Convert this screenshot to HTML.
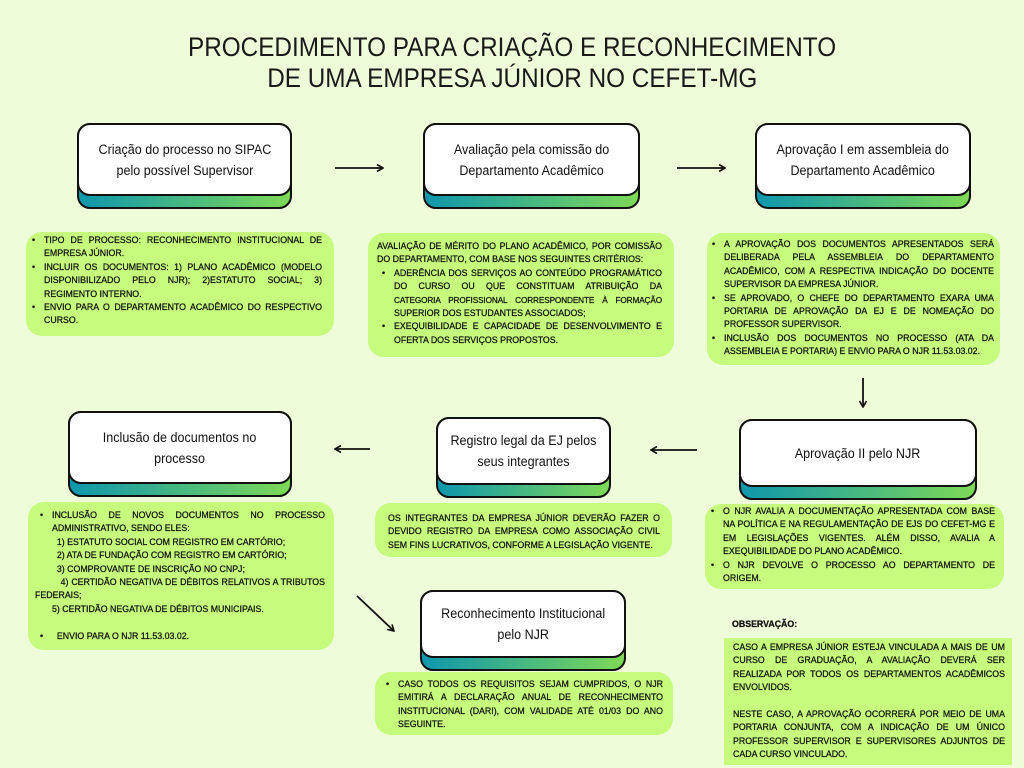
<!DOCTYPE html>
<html><head><meta charset="utf-8">
<style>
*{margin:0;padding:0;box-sizing:border-box}
body{width:1024px;height:768px;background:#effcda;position:relative;overflow:hidden;font-family:"Liberation Sans",sans-serif;color:#1a1a1a}
.title{position:absolute;left:0;width:1024px;text-align:center;font-size:27px;line-height:31px;color:#1a1a1a}
.title span{display:inline-block;transform:scaleX(0.9)}
.node{position:absolute;border:2px solid #111;border-radius:13px;background:linear-gradient(90deg,#0e97ad,#7ed957)}
.node .w{position:absolute;left:-2px;top:-2px;right:-2px;bottom:11px;background:#fff;border:2px solid #111;border-radius:13px;display:flex;align-items:center;justify-content:center;text-align:center;font-size:13.5px;line-height:21px;color:#111}
.node .w span{display:inline-block;transform:scaleX(0.93)}
.g{position:absolute;background:#c6fb7d;border-radius:16px}
.t{position:absolute;font-size:8.8px;color:#111;-webkit-text-stroke:0.25px #111}
.t div{height:13.4px;line-height:13.4px;white-space:nowrap;position:relative}
.t .j{text-align:justify;text-align-last:justify;white-space:normal}
.t .b::before{content:"•";position:absolute;left:-12px;top:0}
svg{position:absolute;left:0;top:0}
</style></head><body>
<div class="title" style="top:32px"><span>PROCEDIMENTO PARA CRIAÇÃO E RECONHECIMENTO</span></div>
<div class="title" style="top:63px"><span>DE UMA EMPRESA JÚNIOR NO CEFET-MG</span></div>

<div class="node" style="left:77px;top:123px;width:215px;height:86px"><div class="w"><span>Criação do processo no SIPAC<br>pelo possível Supervisor</span></div></div>
<div class="node" style="left:423px;top:123px;width:217px;height:86px"><div class="w"><span>Avaliação pela comissão do<br>Departamento Acadêmico</span></div></div>
<div class="node" style="left:755px;top:123px;width:216px;height:86px"><div class="w"><span>Aprovação I em assembleia do<br>Departamento Acadêmico</span></div></div>
<div class="node" style="left:68px;top:411px;width:224px;height:86px"><div class="w"><span>Inclusão de documentos no<br>processo</span></div></div>
<div class="node" style="left:436px;top:417px;width:175px;height:81px"><div class="w"><span>Registro legal da EJ pelos<br>seus integrantes</span></div></div>
<div class="node" style="left:739px;top:419px;width:238px;height:81px"><div class="w"><span>Aprovação II pelo NJR</span></div></div>
<div class="node" style="left:420px;top:590px;width:206px;height:81px"><div class="w"><span>Reconhecimento Institucional<br>pelo NJR</span></div></div>

<div class="g" style="left:26px;top:232px;width:308px;height:104px"></div>
<div class="t" style="left:44px;top:234px;width:278px">
<div class="j b">TIPO DE PROCESSO: RECONHECIMENTO INSTITUCIONAL DE</div>
<div>EMPRESA JÚNIOR.</div>
<div class="j b">INCLUIR OS DOCUMENTOS: 1) PLANO ACADÊMICO (MODELO</div>
<div class="j">DISPONIBILIZADO PELO NJR); 2)ESTATUTO SOCIAL; 3)</div>
<div>REGIMENTO INTERNO.</div>
<div class="j b">ENVIO PARA O DEPARTAMENTO ACADÊMICO DO RESPECTIVO</div>
<div>CURSO.</div>
</div>

<div class="g" style="left:368px;top:233px;width:306px;height:124px"></div>
<div class="t" style="left:377px;top:240px;width:285px">
<div class="j">AVALIAÇÃO DE MÉRITO DO PLANO ACADÊMICO, POR COMISSÃO</div>
<div>DO DEPARTAMENTO, COM BASE NOS SEGUINTES CRITÉRIOS:</div>
<div class="j b" style="margin-left:17px"> ADERÊNCIA DOS SERVIÇOS AO CONTEÚDO PROGRAMÁTICO</div>
<div class="j" style="margin-left:17px">DO CURSO OU QUE CONSTITUAM ATRIBUIÇÃO DA</div>
<div class="j" style="margin-left:17px;font-size:8.2px;letter-spacing:-0.1px">CATEGORIA PROFISSIONAL CORRESPONDENTE À FORMAÇÃO</div>
<div style="margin-left:17px">SUPERIOR DOS ESTUDANTES ASSOCIADOS;</div>
<div class="j b" style="margin-left:17px">EXEQUIBILIDADE E CAPACIDADE DE DESENVOLVIMENTO E</div>
<div style="margin-left:17px">OFERTA DOS SERVIÇOS PROPOSTOS.</div>
</div>

<div class="g" style="left:707px;top:233px;width:293px;height:132px"></div>
<div class="t" style="left:724px;top:238px;width:270px">
<div class="j b">A APROVAÇÃO DOS DOCUMENTOS APRESENTADOS SERÁ</div>
<div class="j">DELIBERADA PELA ASSEMBLEIA DO DEPARTAMENTO</div>
<div class="j">ACADÊMICO, COM A RESPECTIVA INDICAÇÃO DO DOCENTE</div>
<div>SUPERVISOR DA EMPRESA JÚNIOR.</div>
<div class="j b">SE APROVADO, O CHEFE DO DEPARTAMENTO EXARA UMA</div>
<div class="j">PORTARIA DE APROVAÇÃO DA EJ E DE NOMEAÇÃO DO</div>
<div>PROFESSOR SUPERVISOR.</div>
<div class="j b">INCLUSÃO DOS DOCUMENTOS NO PROCESSO (ATA DA</div>
<div>ASSEMBLEIA E PORTARIA) E ENVIO PARA O NJR 11.53.03.02.</div>
</div>

<div class="g" style="left:28px;top:502px;width:306px;height:148px"></div>
<div class="t" style="left:52px;top:509px;width:273px">
<div class="j b">INCLUSÃO DE NOVOS DOCUMENTOS NO PROCESSO</div>
<div>ADMINISTRATIVO, SENDO ELES:</div>
<div>&nbsp;&nbsp;1) ESTATUTO SOCIAL COM REGISTRO EM CARTÓRIO;</div>
<div>&nbsp;&nbsp;2) ATA DE FUNDAÇÃO COM REGISTRO EM CARTÓRIO;</div>
<div>&nbsp;&nbsp;3) COMPROVANTE DE INSCRIÇÃO NO CNPJ;</div>
<div class="j">&nbsp;&nbsp;&nbsp;4) CERTIDÃO NEGATIVA DE DÉBITOS RELATIVOS A TRIBUTOS</div>
<div style="margin-left:-17px">FEDERAIS;</div>
<div>5) CERTIDÃO NEGATIVA DE DÉBITOS MUNICIPAIS.</div>
<div></div>
<div class="b">&nbsp;&nbsp;ENVIO PARA O NJR 11.53.03.02.</div>
</div>

<div class="g" style="left:375px;top:503px;width:297px;height:54px"></div>
<div class="t" style="left:388px;top:512px;width:272px">
<div class="j">OS INTEGRANTES DA EMPRESA JÚNIOR DEVERÃO FAZER O</div>
<div class="j">DEVIDO REGISTRO DA EMPRESA COMO ASSOCIAÇÃO CIVIL</div>
<div>SEM FINS LUCRATIVOS, CONFORME A LEGISLAÇÃO VIGENTE.</div>
</div>

<div class="g" style="left:705px;top:504px;width:299px;height:85px"></div>
<div class="t" style="left:723px;top:505px;width:272px">
<div class="j b">O NJR AVALIA A DOCUMENTAÇÃO APRESENTADA COM BASE</div>
<div class="j">NA POLÍTICA E NA REGULAMENTAÇÃO DE EJS DO CEFET-MG E</div>
<div class="j">EM LEGISLAÇÕES VIGENTES. ALÉM DISSO, AVALIA A</div>
<div>EXEQUIBILIDADE DO PLANO ACADÊMICO.</div>
<div class="j b">O NJR DEVOLVE O PROCESSO AO DEPARTAMENTO DE</div>
<div>ORIGEM.</div>
</div>

<div class="g" style="left:375px;top:672px;width:298px;height:63px"></div>
<div class="t" style="left:398px;top:678px;width:265px">
<div class="j b">CASO TODOS OS REQUISITOS SEJAM CUMPRIDOS, O NJR</div>
<div class="j">EMITIRÁ A DECLARAÇÃO ANUAL DE RECONHECIMENTO</div>
<div class="j">INSTITUCIONAL (DARI), COM VALIDADE ATÉ 01/03 DO ANO</div>
<div>SEGUINTE.</div>
</div>

<div class="t" style="left:732px;top:618px;font-weight:bold"><div>OBSERVAÇÃO:</div></div>
<div class="g" style="left:724px;top:638px;width:288px;height:127px;border-radius:0"></div>
<div class="t" style="left:733px;top:641px;width:272px">
<div class="j">CASO A EMPRESA JÚNIOR ESTEJA VINCULADA A MAIS DE UM</div>
<div class="j">CURSO DE GRADUAÇÃO, A AVALIAÇÃO DEVERÁ SER</div>
<div class="j">REALIZADA POR TODOS OS DEPARTAMENTOS ACADÊMICOS</div>
<div>ENVOLVIDOS.</div>
<div></div>
<div class="j">NESTE CASO, A APROVAÇÃO OCORRERÁ POR MEIO DE UMA</div>
<div class="j">PORTARIA CONJUNTA, COM A INDICAÇÃO DE UM ÚNICO</div>
<div class="j">PROFESSOR SUPERVISOR E SUPERVISORES ADJUNTOS DE</div>
<div>CADA CURSO VINCULADO.</div>
</div>

<svg width="1024" height="768" viewBox="0 0 1024 768">
<defs><marker id="a" markerWidth="8" markerHeight="8" refX="7" refY="4" orient="auto" markerUnits="userSpaceOnUse"><path d="M1,0.5 L7,4 L1,7.5" fill="none" stroke="#111" stroke-width="1.6"/></marker></defs>
<g stroke="#111" stroke-width="1.8" fill="none" marker-end="url(#a)">
<line x1="335" y1="168" x2="383" y2="168"/>
<line x1="677" y1="168" x2="725" y2="168"/>
<line x1="863" y1="378" x2="863" y2="407"/>
<line x1="697" y1="450" x2="651" y2="450"/>
<line x1="370" y1="449" x2="335" y2="449"/>
<line x1="357" y1="596" x2="394" y2="631"/>
</g>
</svg>
</body></html>
